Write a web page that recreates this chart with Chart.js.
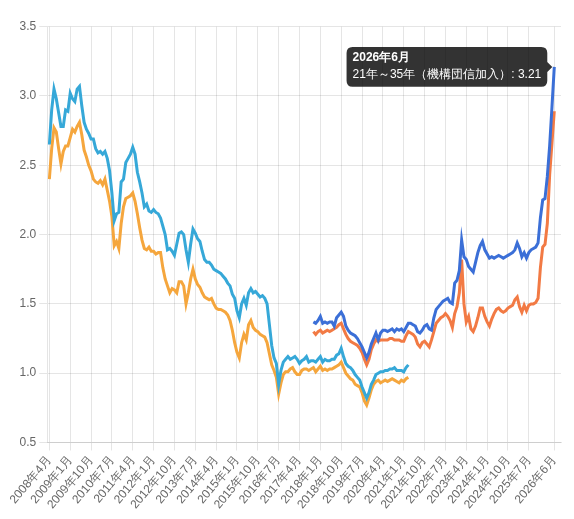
<!DOCTYPE html>
<html><head><meta charset="utf-8">
<script src="https://cdn.jsdelivr.net/npm/chart.js@4.4.1/dist/chart.umd.min.js"></script>
<style>html,body{margin:0;padding:0;background:#fff;}#wrap{width:574px;height:519px;position:relative;}</style>
</head><body><div id="wrap"><canvas id="c"></canvas></div>
<script>
// Monthly categories from 2008年4月 to 2026年6月
const startYear = 2008, startMonth = 4, monthCount = 219;
const months = [];
for (let k = 0; k < monthCount; k++) {
  const t = (startMonth - 1) + k;
  months.push((startYear + Math.floor(t / 12)) + '年' + (t % 12 + 1) + '月');
}
// Category indices whose labels are shown on the x axis
const tickIndices = [0,9,18,27,36,45,54,63,72,81,90,99,108,117,126,135,144,153,162,171,180,189,198,207,218];

const seriesLabels = ['21年～35年', '20年以下', '21年～35年（機構団信加入）', '20年以下（機構団信加入）'];

// Old series start at index 0 (2008年4月)
const oldStart = 0;
const old2135 = [2.65,2.90,3.05,2.98,2.88,2.78,2.78,2.90,2.89,3.02,2.98,2.96,3.05,3.07,2.93,2.81,2.76,2.73,2.69,2.69,
2.62,2.59,2.60,2.58,2.60,2.55,2.46,2.30,2.10,2.15,2.16,2.38,2.40,2.52,2.55,2.58,2.63,2.58,2.45,2.38,
2.30,2.20,2.22,2.17,2.16,2.18,2.16,2.15,2.12,2.06,2.00,1.89,1.90,1.88,1.85,1.93,2.01,2.02,2.00,1.89,
1.80,1.93,2.04,2.01,1.97,1.95,1.88,1.82,1.80,1.80,1.78,1.75,1.74,1.73,1.72,1.70,1.68,1.65,1.63,1.57,
1.54,1.45,1.40,1.50,1.54,1.49,1.58,1.61,1.58,1.59,1.57,1.55,1.56,1.54,1.50,1.35,1.20,1.11,1.07,0.92,
1.02,1.08,1.10,1.12,1.10,1.11,1.12,1.10,1.07,1.09,1.10,1.12,1.08,1.09,1.09,1.08,1.10,1.12,1.08,1.10,
1.09,1.09,1.10,1.10,1.13,1.14,1.18,1.12,1.07,1.05,1.04,1.02,0.99,0.97,0.95,0.90,0.86,0.82,0.86,0.92,
0.95,0.99,1.00,1.01,1.01,1.02,1.02,1.03,1.03,1.04,1.02,1.02,1.02,1.01,1.04,1.06];
const old20 = [2.40,2.62,2.77,2.74,2.62,2.51,2.60,2.64,2.64,2.70,2.76,2.74,2.78,2.81,2.72,2.61,2.56,2.50,2.46,2.40,
2.38,2.37,2.39,2.36,2.40,2.32,2.24,2.13,1.92,1.95,1.90,2.08,2.20,2.26,2.27,2.28,2.30,2.24,2.15,2.05,
1.96,1.90,1.89,1.91,1.88,1.88,1.86,1.87,1.87,1.76,1.68,1.63,1.58,1.61,1.60,1.58,1.66,1.66,1.63,1.50,
1.58,1.68,1.75,1.68,1.64,1.62,1.58,1.55,1.54,1.53,1.54,1.50,1.47,1.46,1.46,1.45,1.44,1.42,1.38,1.31,
1.22,1.15,1.11,1.22,1.28,1.24,1.35,1.38,1.33,1.31,1.30,1.28,1.27,1.26,1.22,1.14,1.06,1.02,0.97,0.85,
0.93,0.99,1.01,1.01,1.03,1.04,1.01,0.99,0.99,1.02,1.03,1.03,1.02,1.03,1.04,1.01,1.03,1.05,1.02,1.03,
1.02,1.03,1.03,1.04,1.05,1.06,1.08,1.04,1.00,0.98,0.96,0.95,0.92,0.91,0.90,0.86,0.80,0.77,0.82,0.88,
0.92,0.94,0.95,0.93,0.94,0.95,0.94,0.95,0.96,0.95,0.94,0.93,0.95,0.94,0.96,0.97];

// New series (機構団信加入) start at index 114 (2017年10月)
const newStart = 114;
const new2135 = [1.37,1.36,1.38,1.41,1.36,1.37,1.36,1.37,1.37,1.34,1.40,1.42,1.44,1.41,1.34,1.31,1.29,1.28,1.27,1.25,
1.22,1.19,1.15,1.11,1.15,1.21,1.25,1.29,1.24,1.29,1.31,1.31,1.30,1.31,1.32,1.30,1.32,1.31,1.32,1.30,
1.33,1.36,1.36,1.35,1.34,1.30,1.29,1.31,1.34,1.35,1.32,1.31,1.40,1.46,1.48,1.50,1.52,1.53,1.54,1.51,
1.50,1.65,1.67,1.74,1.96,1.84,1.82,1.77,1.75,1.73,1.80,1.87,1.92,1.95,1.89,1.86,1.83,1.84,1.83,1.84,
1.85,1.84,1.83,1.84,1.85,1.86,1.87,1.89,1.94,1.90,1.84,1.87,1.83,1.87,1.89,1.90,1.91,1.94,2.12,2.25,
2.26,2.42,2.64,2.92,3.21];
const new20 = [1.30,1.28,1.30,1.31,1.29,1.30,1.31,1.30,1.31,1.32,1.33,1.35,1.36,1.32,1.28,1.25,1.23,1.22,1.21,1.20,
1.18,1.15,1.10,1.06,1.10,1.17,1.21,1.24,1.23,1.24,1.24,1.24,1.24,1.25,1.25,1.24,1.24,1.24,1.23,1.23,
1.27,1.30,1.29,1.28,1.26,1.21,1.19,1.22,1.23,1.21,1.19,1.24,1.30,1.36,1.38,1.40,1.41,1.43,1.41,1.38,
1.33,1.43,1.48,1.58,1.82,1.50,1.37,1.41,1.32,1.30,1.34,1.40,1.47,1.47,1.41,1.37,1.34,1.39,1.43,1.46,
1.47,1.45,1.44,1.45,1.47,1.48,1.49,1.53,1.55,1.48,1.44,1.49,1.45,1.49,1.50,1.50,1.51,1.54,1.76,1.91,
1.93,2.08,2.43,2.66,2.89];

const colors = ['#36a8d8', '#f5a63d', '#3b6fd7', '#f27a44'];

function toPoints(arr, start) { return arr.map((v, k) => ({x: start + k, y: v})); }

const datasets = [
  {label: seriesLabels[0], data: toPoints(old2135, oldStart), borderColor: colors[0], backgroundColor: colors[0]},
  {label: seriesLabels[1], data: toPoints(old20, oldStart), borderColor: colors[1], backgroundColor: colors[1]},
  {label: seriesLabels[2], data: toPoints(new2135, newStart), borderColor: colors[2], backgroundColor: colors[2]},
  {label: seriesLabels[3], data: toPoints(new20, newStart), borderColor: colors[3], backgroundColor: colors[3]}
].map(d => Object.assign(d, {borderWidth: 3, pointRadius: 0, pointHoverRadius: 0, tension: 0, fill: false}));

const chart = new Chart(document.getElementById('c'), {
  type: 'line',
  data: {datasets},
  options: {
    responsive: true,
    maintainAspectRatio: false,
    animation: false,
    events: [],
    layout: {padding: {top: 26.7, left: 16.6, right: 13, bottom: 4.2}},
    plugins: {
      legend: {display: false},
      tooltip: {
        displayColors: false,
        padding: {top: 3, bottom: 5, left: 6, right: 6},
        titleMarginBottom: 3,
        callbacks: {title: items => months[items[0].parsed.x]}
      }
    },
    scales: {
      x: {
        type: 'linear',
        min: -0.9,
        max: 220.9,
        afterBuildTicks: s => { s.ticks = tickIndices.map(v => ({value: v})); },
        ticks: {autoSkip: false, minRotation: 50, maxRotation: 50, callback: v => months[v]}
      },
      y: {min: 0.5, max: 3.5, ticks: {stepSize: 0.5}}
    }
  }
});

const hi = {datasetIndex: 2, index: 218 - newStart};
const pt = chart.getDatasetMeta(2).data[hi.index];
chart.tooltip.setActiveElements([hi], {x: pt.x, y: pt.y});
chart.update();
</script></body></html>
